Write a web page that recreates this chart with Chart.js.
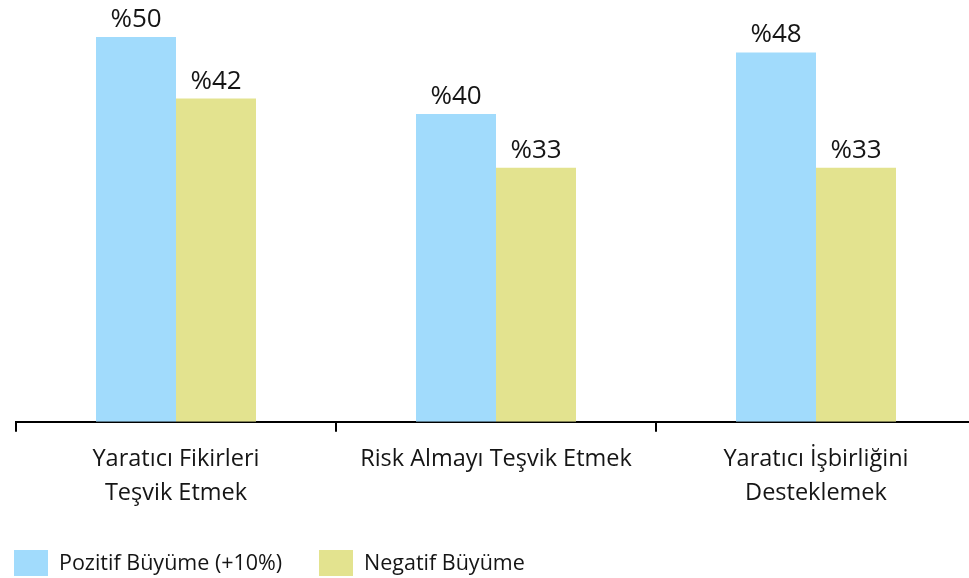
<!DOCTYPE html>
<html><head><meta charset="utf-8">
<script src="https://cdn.jsdelivr.net/npm/chart.js@4/dist/chart.umd.min.js"></script>
<style>html,body{margin:0;padding:0;overflow:hidden;background:#fff;width:969px;height:578px}</style>
</head><body>
<canvas id="c" width="990" height="578" style="width:990px;height:578px;display:block"></canvas>
<script>
const categories = [['Yaratıcı Fikirleri','Teşvik Etmek'], 'Risk Almayı Teşvik Etmek', ['Yaratıcı İşbirliğini','Desteklemek']];
const seriesNames = ['Pozitif Büyüme (+10%)', 'Negatif Büyüme'];
const positiveValues = [50, 40, 48];
const negativeValues = [42, 33, 33];
const colors = ['#a1dbfc', '#e3e38f'];
const FONT = "'Open Sans', sans-serif";
const TEXT = '#151515';

const valueLabels = {
  id: 'valueLabels',
  afterDatasetsDraw(chart) {
    const ctx = chart.ctx;
    ctx.save();
    ctx.font = '26px ' + FONT;
    ctx.fillStyle = TEXT;
    ctx.textAlign = 'center';
    ctx.textBaseline = 'alphabetic';
    chart.data.datasets.forEach((ds, i) => {
      chart.getDatasetMeta(i).data.forEach((bar, j) => {
        ctx.fillText('%' + ds.data[j], bar.x, bar.y - 10);
      });
    });
    ctx.restore();
  }
};

const customLegend = {
  id: 'customLegend',
  afterDraw(chart) {
    const ctx = chart.ctx;
    ctx.save();
    ctx.font = '21.5px ' + FONT;
    ctx.textBaseline = 'middle';
    const starts = [14, 319];
    chart.data.datasets.forEach((ds, i) => {
      const x = starts[i], y = 550;
      ctx.fillStyle = ds.backgroundColor;
      ctx.fillRect(x, y, 34, 26);
      ctx.fillStyle = TEXT;
      ctx.fillText(ds.label, x + 45, y + 14);
    });
    ctx.restore();
  }
};

new Chart(document.getElementById('c'), {
  type: 'bar',
  data: {
    labels: categories,
    datasets: [
      {label: seriesNames[0], data: positiveValues, backgroundColor: colors[0]},
      {label: seriesNames[1], data: negativeValues, backgroundColor: colors[1]}
    ]
  },
  options: {
    responsive: false,
    animation: false,
    layout: {padding: {left: 16, right: 14, top: 37, bottom: 58}},
    datasets: {bar: {categoryPercentage: 0.5, barPercentage: 1.0}},
    plugins: {legend: {display: false}, tooltip: {enabled: false}},
    scales: {
      y: {display: false, min: 0, max: 50},
      x: {
        grid: {display: true, drawOnChartArea: false, drawTicks: true, tickLength: 10, color: '#000', lineWidth: 2, offset: true},
        border: {display: true, color: '#000', width: 2},
        ticks: {color: TEXT, font: {family: FONT, size: 23.5, lineHeight: 1.45}, padding: 10, maxRotation: 0, autoSkip: false}
      }
    }
  },
  plugins: [valueLabels, customLegend]
});
</script>
</body></html>
